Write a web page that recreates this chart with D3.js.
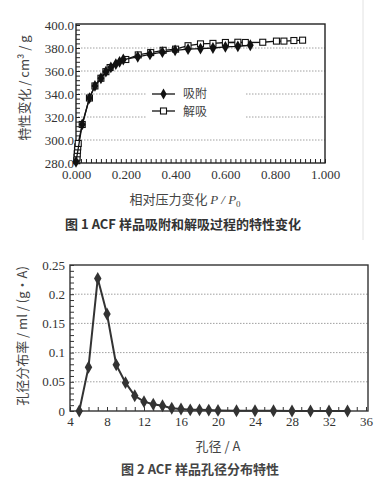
<!DOCTYPE html>
<html>
<head>
<meta charset="utf-8">
<script src="https://cdnjs.cloudflare.com/ajax/libs/d3/7.8.5/d3.min.js"></script>
<style>
  body { margin: 0; background: #fff; }
  svg { display: block; }
</style>
</head>
<body>
<div id="chart"></div>
<script>
// 图1：吸附 / 解吸
const adsorbX = [0.000, 0.025, 0.054, 0.076, 0.100, 0.120, 0.140, 0.160, 0.175, 0.190, 0.248, 0.297, 0.347, 0.398, 0.450, 0.500, 0.550, 0.600, 0.650, 0.700];
const adsorbY = [281.0, 313.5, 336.5, 347.0, 353.7, 359.4, 363.2, 366.0, 368.0, 370.0, 372.3, 374.4, 376.4, 378.0, 379.0, 379.5, 380.0, 381.0, 381.5, 382.4];
const desorbX = [0.003, 0.004, 0.005, 0.006, 0.007, 0.009, 0.025, 0.054, 0.076, 0.100, 0.120, 0.137, 0.200, 0.250, 0.300, 0.350, 0.400, 0.450, 0.500, 0.550, 0.600, 0.650, 0.680, 0.750, 0.805, 0.835, 0.875, 0.910];
const desorbY = [282.0, 285.0, 288.0, 291.0, 294.0, 297.0, 313.5, 336.5, 347.0, 353.7, 359.4, 363.0, 370.0, 374.0, 376.0, 378.0, 379.0, 382.0, 383.6, 384.0, 384.8, 385.0, 384.8, 385.0, 386.0, 386.0, 386.5, 386.8];
const xTicks1 = [0, 0.2, 0.4, 0.6, 0.8, 1.0];
const yTicks1 = [280, 300, 320, 340, 360, 380, 400];

// 图2：孔径分布
const poreX = [5, 6, 7, 8, 9, 10, 11, 12, 13, 14, 15, 16, 17, 18, 19, 20, 22, 24, 26, 28, 30, 32, 34];
const poreY = [0, 0.075, 0.227, 0.166, 0.079, 0.0485, 0.026, 0.016, 0.0115, 0.009, 0.0046, 0.0034, 0.002, 0.002, 0.0015, 0.001, 0.0005, 0.0005, 0.0005, 0, 0, 0, 0];
const xTicks2 = [4, 8, 12, 16, 20, 24, 28, 32, 36];
const yTicks2 = [0, 0.05, 0.1, 0.15, 0.2, 0.25];

const SERIF = '"Liberation Serif", "DejaVu Serif", serif';
const CJK = '"Noto Sans CJK SC", sans-serif';

const W = 390, H = 486;
const svg = d3.select('#chart').append('svg')
  .attr('width', W).attr('height', H);

// 扫描痕迹的淡竖线
svg.append('line')
  .attr('x1', 363).attr('x2', 363).attr('y1', 0).attr('y2', 240)
  .attr('stroke', '#e2e2e2').attr('stroke-width', 1);

// 数字标签样式
function styleNums(sel) {
  sel.selectAll('text')
    .attr('fill', '#333')
    .style('font-family', SERIF)
    .style('font-size', '13px');
}

// ---------- 图 1 ----------
const x1 = d3.scaleLinear().domain([0, 1]).range([76, 325]);
const y1 = d3.scaleLinear().domain([280, 400]).range([163, 25]);

const g1 = svg.append('g');

// 网格线
g1.selectAll('.grid1')
  .data(yTicks1.slice(1, -1))
  .enter().append('line')
  .attr('x1', x1(0) + 2).attr('x2', x1(1))
  .attr('y1', d => y1(d)).attr('y2', d => y1(d))
  .attr('stroke', '#888').attr('stroke-width', 0.8)
  .attr('stroke-dasharray', '1.5,1.5');

// 次刻度
g1.append('g')
  .attr('transform', `translate(${x1(0)},0)`)
  .call(d3.axisLeft(y1).tickValues(d3.range(280, 400.1, 4)).tickSize(-4).tickFormat(''))
  .call(s => s.select('.domain').remove())
  .selectAll('line').attr('stroke', '#222');
g1.append('g')
  .attr('transform', `translate(0,${y1(280)})`)
  .call(d3.axisBottom(x1).tickValues(d3.range(0, 1.001, 0.02)).tickSize(-4).tickFormat(''))
  .call(s => s.select('.domain').remove())
  .selectAll('line').attr('stroke', '#222');

// 主刻度标签
const yAxis1 = g1.append('g')
  .attr('transform', `translate(${x1(0)},0)`)
  .call(d3.axisLeft(y1).tickValues(yTicks1).tickSize(0).tickPadding(2).tickFormat(d3.format('.1f')));
yAxis1.select('.domain').remove();
styleNums(yAxis1);

const xAxis1 = g1.append('g')
  .attr('transform', `translate(0,${y1(280)})`)
  .call(d3.axisBottom(x1).tickValues(xTicks1).tickSize(0).tickPadding(7).tickFormat(d3.format('.3f')));
xAxis1.select('.domain').remove();
styleNums(xAxis1);

// 边框
g1.append('rect')
  .attr('x', x1(0)).attr('y', y1(400) - 1)
  .attr('width', x1(1) - x1(0)).attr('height', y1(280) - y1(400) + 1)
  .attr('fill', 'none').attr('stroke', '#222').attr('stroke-width', 1.4);

// 图例
const legend = g1.append('g');
legend.append('rect')
  .attr('x', 147).attr('y', 84).attr('width', 98).attr('height', 37)
  .attr('fill', '#fff');
legend.append('line').attr('x1', 152).attr('x2', 175).attr('y1', 94).attr('y2', 94)
  .attr('stroke', '#111').attr('stroke-width', 1.3);
legend.append('path').attr('transform', 'translate(163.5,94)')
  .attr('d', d3.symbol(d3.symbolDiamond, 34)()).attr('fill', '#111');
legend.append('text').attr('x', 183).attr('y', 98)
  .style('font-family', CJK).style('font-size', '12px').attr('fill', '#444').text('吸附');
legend.append('line').attr('x1', 152).attr('x2', 175).attr('y1', 111).attr('y2', 111)
  .attr('stroke', '#111').attr('stroke-width', 1.3);
legend.append('rect').attr('x', 160.5).attr('y', 108).attr('width', 6).attr('height', 6)
  .attr('fill', '#fff').attr('stroke', '#111').attr('stroke-width', 1.1);
legend.append('text').attr('x', 183).attr('y', 116)
  .style('font-family', CJK).style('font-size', '12px').attr('fill', '#444').text('解吸');

// 曲线
const line1 = d3.line().x(d => x1(d[0])).y(d => y1(d[1]));
const desorb = d3.zip(desorbX, desorbY);
const adsorb = d3.zip(adsorbX, adsorbY);

g1.append('path').datum(desorb).attr('d', line1)
  .attr('fill', 'none').attr('stroke', '#111').attr('stroke-width', 1.3);
g1.selectAll('.sq').data(desorb).enter().append('rect')
  .attr('x', d => x1(d[0]) - 3).attr('y', d => y1(d[1]) - 3)
  .attr('width', 6).attr('height', 6)
  .attr('fill', '#fff').attr('stroke', '#111').attr('stroke-width', 1.1);

g1.append('path').datum(adsorb).attr('d', line1)
  .attr('fill', 'none').attr('stroke', '#111').attr('stroke-width', 1.3);
g1.selectAll('.dm').data(adsorb).enter().append('path')
  .attr('transform', d => `translate(${x1(d[0])},${y1(d[1])})`)
  .attr('d', d3.symbol(d3.symbolDiamond, 40)()).attr('fill', '#111');

// 轴标题
g1.append('text')
  .attr('transform', 'translate(29,88) rotate(-90)')
  .attr('text-anchor', 'middle')
  .style('font-family', CJK).style('font-size', '13px').attr('fill', '#444')
  .text('特性变化 / cm³ / g');

const xl1 = g1.append('text')
  .attr('x', 185).attr('y', 204).attr('text-anchor', 'middle')
  .style('font-family', CJK).style('font-size', '13px').attr('fill', '#444');
xl1.append('tspan').text('相对压力变化 ');
xl1.append('tspan').style('font-style', 'italic').style('font-family', SERIF).text('P / P');
xl1.append('tspan').style('font-family', SERIF).style('font-size', '9px').attr('dy', 3).text('0');

svg.append('text')
  .attr('x', 183).attr('y', 229).attr('text-anchor', 'middle')
  .style('font-family', CJK).style('font-size', '13px').style('font-weight', 'bold').attr('fill', '#333')
  .text('图 1  ACF 样品吸附和解吸过程的特性变化');

// ---------- 图 2 ----------
const x2 = d3.scaleLinear().domain([4, 36]).range([70, 366]);
const y2 = d3.scaleLinear().domain([0, 0.25]).range([411, 265]);

const g2 = svg.append('g');

g2.selectAll('.grid2')
  .data(yTicks2.slice(1, -1))
  .enter().append('line')
  .attr('x1', x2(4) + 2).attr('x2', x2(36) + 2)
  .attr('y1', d => y2(d)).attr('y2', d => y2(d))
  .attr('stroke', '#888').attr('stroke-width', 0.8)
  .attr('stroke-dasharray', '1.5,1.5');

g2.append('g')
  .attr('transform', `translate(${x2(4)},0)`)
  .call(d3.axisLeft(y2).tickValues(d3.range(0, 0.2501, 0.01)).tickSize(-4).tickFormat(''))
  .call(s => s.select('.domain').remove())
  .selectAll('line').attr('stroke', '#333');
g2.append('g')
  .attr('transform', `translate(0,${y2(0)})`)
  .call(d3.axisBottom(x2).tickValues(d3.range(4, 36.01, 1)).tickSize(-4).tickFormat(''))
  .call(s => s.select('.domain').remove())
  .selectAll('line').attr('stroke', '#333');

const yAxis2 = g2.append('g')
  .attr('transform', `translate(${x2(4)},0)`)
  .call(d3.axisLeft(y2).tickValues(yTicks2).tickSize(0).tickPadding(5).tickFormat(d => d === 0 ? '0' : String(d)));
yAxis2.select('.domain').remove();
styleNums(yAxis2);

const xAxis2 = g2.append('g')
  .attr('transform', `translate(0,${y2(0)})`)
  .call(d3.axisBottom(x2).tickValues(xTicks2).tickSize(0).tickPadding(6));
xAxis2.select('.domain').remove();
styleNums(xAxis2);

g2.append('rect')
  .attr('x', x2(4)).attr('y', y2(0.25))
  .attr('width', x2(36) + 2 - x2(4)).attr('height', y2(0) - y2(0.25))
  .attr('fill', 'none').attr('stroke', '#333').attr('stroke-width', 1.4);

const pore = d3.zip(poreX, poreY);
const line2 = d3.line().x(d => x2(d[0])).y(d => y2(d[1]));
g2.append('path').datum(pore).attr('d', line2)
  .attr('fill', 'none').attr('stroke', '#333').attr('stroke-width', 2);
g2.selectAll('.pd').data(pore).enter().append('path')
  .attr('transform', d => `translate(${x2(d[0])},${y2(d[1])})`)
  .attr('d', d3.symbol(d3.symbolDiamond, 48)()).attr('fill', '#333');

g2.append('text')
  .attr('transform', 'translate(27,336) rotate(-90)')
  .attr('text-anchor', 'middle')
  .style('font-family', CJK).style('font-size', '13px').attr('fill', '#444')
  .text('孔径分布率 / ml / (g·A)');

g2.append('text')
  .attr('x', 218).attr('y', 451).attr('text-anchor', 'middle')
  .style('font-family', CJK).style('font-size', '13px').attr('fill', '#444')
  .text('孔径 / A');

svg.append('text')
  .attr('x', 200).attr('y', 474).attr('text-anchor', 'middle')
  .style('font-family', CJK).style('font-size', '13px').style('font-weight', 'bold').attr('fill', '#444')
  .text('图 2  ACF 样品孔径分布特性');
</script>
</body>
</html>
